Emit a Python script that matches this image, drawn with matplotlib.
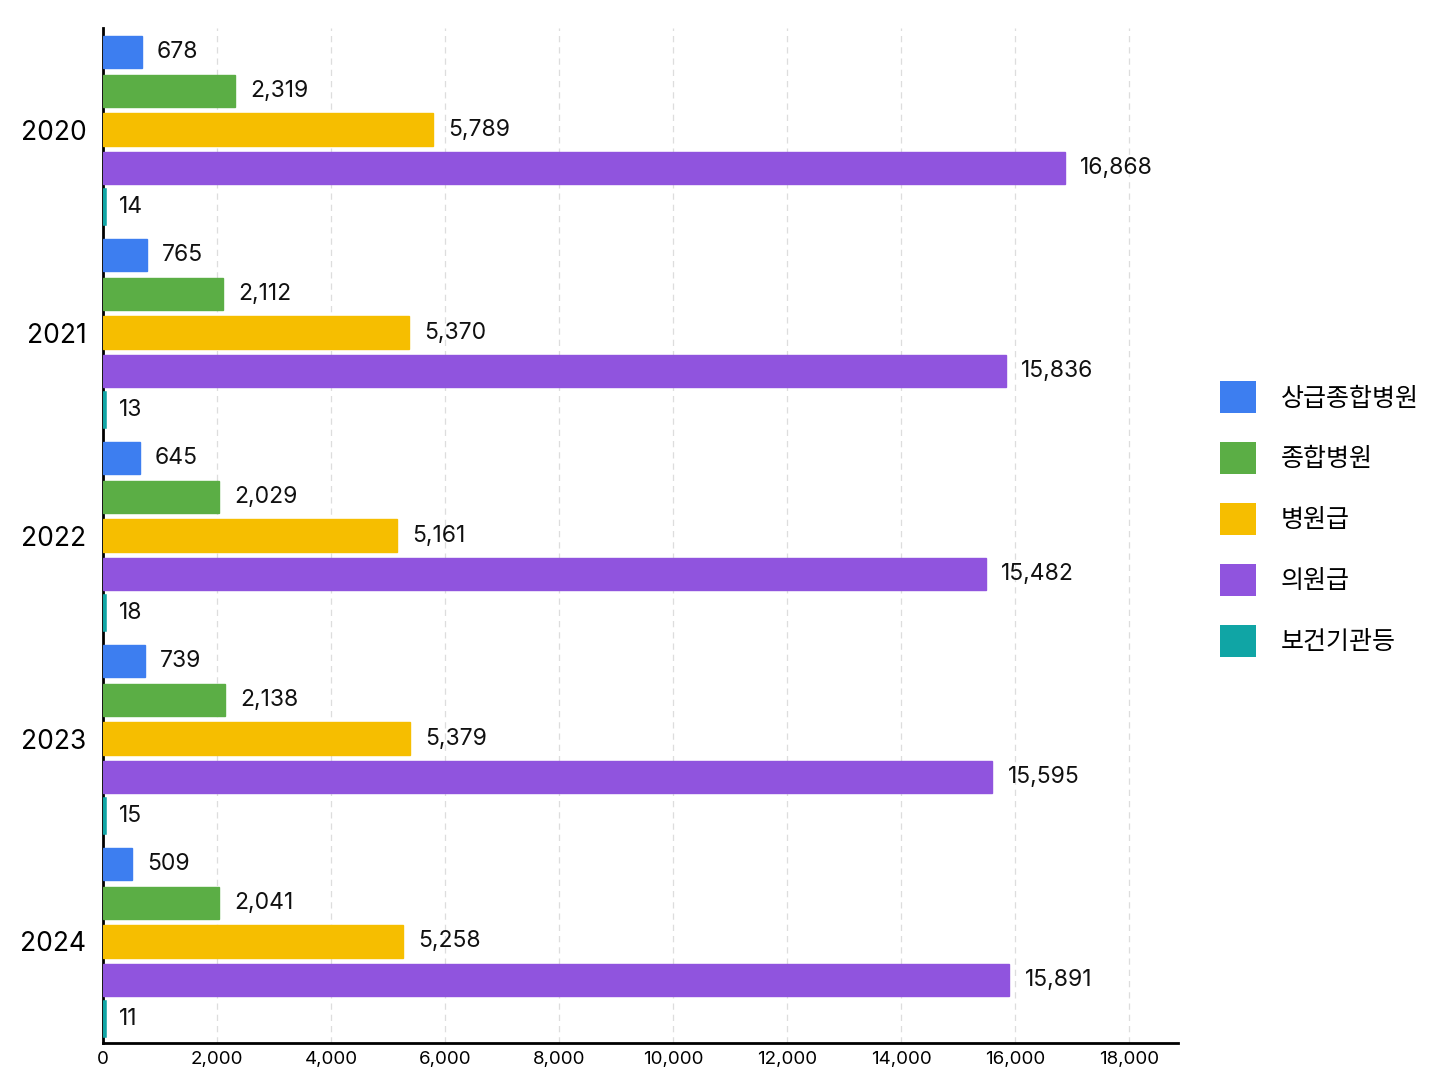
import matplotlib.pyplot as plt
from matplotlib.patches import Patch
import numpy as np

plt.rcParams['font.family'] = ['Inter', 'Noto Sans CJK KR', 'DejaVu Sans']

# 데이터
years = ['2020', '2021', '2022', '2023', '2024']
categories = ['상급종합병원', '종합병원', '병원급', '의원급', '보건기관등']
top_hospital = [678, 765, 645, 739, 509]
general_hospital = [2319, 2112, 2029, 2138, 2041]
hospital = [5789, 5370, 5161, 5379, 5258]
clinic = [16868, 15836, 15482, 15595, 15891]
public_health = [14, 13, 18, 15, 11]
xticks = [0, 2000, 4000, 6000, 8000, 10000, 12000, 14000, 16000, 18000]

series = [top_hospital, general_hospital, hospital, clinic, public_health]
colors = ['#3D7EF0', '#5BAE45', '#F6BE00', '#9054DE', '#10A5A5']
edge_widths = [1.0, 1.0, 1.0, 1.0, 4.0]  # 아주 작은 값도 보이도록

fig = plt.figure(figsize=(14.48, 10.86), dpi=100)
ax = fig.add_axes([0.0711, 0.0396, 0.7424, 0.9346])

y = np.arange(len(years))
step = 0.19
height = 0.158
for i, (vals, c, name) in enumerate(zip(series, colors, categories)):
    pos = y + (i - 2) * step
    bars = ax.barh(pos, vals, height=height, color=c,
                   edgecolor=c, linewidth=edge_widths[i], zorder=3)
    for b, v in zip(bars, vals):
        ax.annotate(f'{v:,}', (b.get_width(), b.get_y() + b.get_height() / 2),
                    xytext=(11, 0), textcoords='offset points',
                    va='center', ha='left', fontsize=16.5, color='#111111')

ax.set_ylim(4.5, -0.5)
ax.set_xlim(0, 18850)
ax.set_yticks(y)
ax.set_yticklabels(years, fontsize=19)
ax.set_xticks(xticks)
ax.set_xticklabels([f'{t:,}' for t in xticks], fontsize=13.5)
ax.tick_params(axis='y', length=0, pad=12)
ax.tick_params(axis='x', length=0, pad=6)

ax.grid(axis='x', linestyle=(0, (5, 4)), color='#dddddd', linewidth=0.9)
ax.set_axisbelow(True)
for s in ['top', 'right']:
    ax.spines[s].set_visible(False)
ax.spines['left'].set_linewidth(2)
ax.spines['bottom'].set_linewidth(2)

handles = [Patch(facecolor=c, edgecolor='none') for c in colors]
fig.legend(handles, categories, loc='center left', bbox_to_anchor=(0.827, 0.522),
           frameon=False, fontsize=18, handlelength=1.44, handleheight=1.6,
           labelspacing=1.15, handletextpad=1.0)

plt.savefig('out.png', dpi=100)
